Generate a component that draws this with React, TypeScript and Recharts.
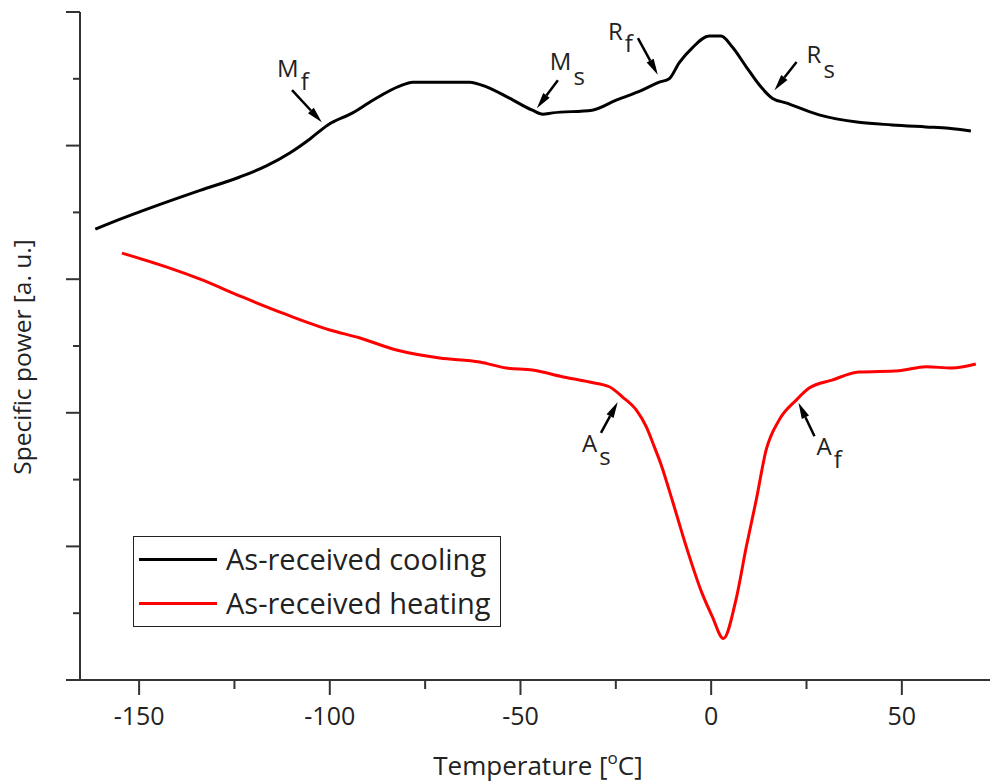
import React from 'react';
import { LineChart, Line, XAxis, YAxis, ReferenceLine, Legend } from 'recharts';

// temperature [°C] / specific power [a. u.]
const coolT = [-161.5, -157.6, -144.5, -134.0, -123.6, -116.5, -110.5, -105.2, -100.5, -94.0, -88.7, -81.7, -78.3, -63.4, -58.9, -52.9, -46.9, -44.2, -41.6, -31.2, -24.9, -18.1, -13.6, -11.0, -8.4, -5.0, -0.5, 2.6, 5.5, 9.2, 12.6, 16.0, 19.6, 28.3, 38.7, 47.4, 56.3, 62.3, 68.1];
const coolP = [6.75, 6.84, 7.12, 7.33, 7.53, 7.7, 7.89, 8.1, 8.31, 8.49, 8.68, 8.89, 8.95, 8.95, 8.88, 8.71, 8.53, 8.47, 8.49, 8.53, 8.68, 8.83, 8.95, 9.0, 9.24, 9.46, 9.64, 9.64, 9.48, 9.18, 8.91, 8.71, 8.64, 8.46, 8.35, 8.31, 8.28, 8.26, 8.22];

const heatT = [-154.5, -142.7, -134.0, -122.8, -111.8, -100.0, -92.1, -82.5, -71.2, -60.7, -53.7, -46.9, -39.0, -31.9, -26.7, -23.3, -19.6, -17.0, -14.9, -13.1, -10.2, -6.5, -2.4, 0.3, 3.2, 6.5, 9.2, 11.8, 14.4, 17.8, 22.3, 25.7, 31.7, 38.7, 49.2, 56.3, 63.1, 69.4];
const heatP = [6.39, 6.18, 6.0, 5.73, 5.48, 5.24, 5.12, 4.94, 4.82, 4.76, 4.67, 4.64, 4.54, 4.46, 4.39, 4.24, 4.04, 3.79, 3.49, 3.22, 2.69, 1.99, 1.3, 0.95, 0.62, 1.2, 1.99, 2.69, 3.44, 3.89, 4.19, 4.37, 4.49, 4.61, 4.63, 4.69, 4.67, 4.73];

const xMajor = [-150, -100, -50, 0, 50];
const xMinor = [-125, -75, -25, 25];
const topMajor = [-116.7, -69.3, -20.8, 26.9];
const topMinor = [-141.1, -93.1, -44.9, 2.8, 51.3];
const yMajor = [0, 2, 4, 6, 8, 10];
const yMinor = [1, 3, 5, 7, 9];

// transition markers: label, subscript, arrow tail -> head (data coords)
const marks = [
  { id: 'Mf', main: 'M', sub: 'f', from: [-109.9, 8.83], to: [-102.1, 8.35] },
  { id: 'Ms', main: 'M', sub: 's', from: [-40.2, 8.98], to: [-45.7, 8.56] },
  { id: 'Rf', main: 'R', sub: 'f', from: [-19.2, 9.61], to: [-14.0, 9.06] },
  { id: 'Rs', main: 'R', sub: 's', from: [22.4, 9.25], to: [16.6, 8.83] },
  { id: 'As', main: 'A', sub: 's', from: [-28.9, 3.7], to: [-24.5, 4.16] },
  { id: 'Af', main: 'A', sub: 'f', from: [27.1, 3.65], to: [22.9, 4.15] },
];

// label placement relative to arrow tail, in px
const labelPos: Record<string, { dx: number; dy: number; sub: number }> = {
  Mf: { dx: -15, dy: -13, sub: 13 },
  Ms: { dx: -8, dy: -10, sub: 15 },
  Rf: { dx: -30, dy: 2, sub: 12 },
  Rs: { dx: 10, dy: 1, sub: 15 },
  As: { dx: -19, dy: 19, sub: 13 },
  Af: { dx: 2, dy: 19, sub: 13 },
};

const cooling = coolT.map((t, i) => ({ t, p: coolP[i] }));
const heating = heatT.map((t, i) => ({ t, p: heatP[i] }));

const FONT = '"Open Sans", sans-serif';
const INK = '#222';
const AX = '#333';
const xDomain: [number, number] = [-165.5, 76];

const BottomTick = ({ x, y, payload }: any) => {
  const major = xMajor.includes(payload.value);
  return (
    <g>
      <line x1={x} x2={x} y1={y} y2={y + (major ? 15 : 9)} stroke={AX} strokeWidth={2} />
      {major && (
        <text x={x} y={y + 45} textAnchor="middle" fontFamily={FONT} fontSize={25} fill={INK}>
          {payload.value}
        </text>
      )}
    </g>
  );
};

const TopTick = ({ x, y, payload }: any) => {
  const major = topMajor.includes(payload.value);
  return <line x1={x} x2={x} y1={y} y2={y + (major ? 12 : 5)} stroke={AX} strokeWidth={2} />;
};

const SideTick = ({ x, y, payload }: any) => {
  const major = yMajor.includes(payload.value);
  return <line x1={x} x2={x - (major ? 14 : 7)} y1={y} y2={y} stroke={AX} strokeWidth={2} />;
};

const Arrow = (props: any) => {
  const { x1, y1, x2, y2, mark } = props;
  const pos = labelPos[mark.id];
  const dx = x2 - x1;
  const dy = y2 - y1;
  const len = Math.sqrt(dx * dx + dy * dy) || 1;
  const ux = dx / len;
  const uy = dy / len;
  const head = 16;
  const half = 4;
  const bx = x2 - ux * head;
  const by = y2 - uy * head;
  const pts = `${x2},${y2} ${bx - uy * half},${by + ux * half} ${bx + uy * half},${by - ux * half}`;
  return (
    <g>
      <line x1={x1} y1={y1} x2={bx} y2={by} stroke="#000" strokeWidth={2.5} />
      <polygon points={pts} fill="#000" />
      <text x={x1 + pos.dx} y={y1 + pos.dy} fontFamily={FONT} fontSize={24} fill={INK}>
        {mark.main}
        <tspan dx={2} dy={pos.sub}>{mark.sub}</tspan>
      </text>
    </g>
  );
};

const LegendBox = ({ payload }: any) => (
  <div style={{ fontFamily: FONT }}>
    {(payload || []).map((e: any) => (
      <div key={e.value} style={{ height: 44, display: 'flex', alignItems: 'center' }}>
        <span style={{ display: 'inline-block', width: 78, height: 3, background: e.color, marginLeft: 5 }} />
        <span style={{ fontSize: 29, color: INK, marginLeft: 9, lineHeight: '44px', whiteSpace: 'nowrap' }}>{e.value}</span>
      </div>
    ))}
  </div>
);

const YLabel = ({ viewBox }: any) => {
  const cy = viewBox.y + viewBox.height / 2 + 11;
  return (
    <text x={31} y={cy} transform={`rotate(-90 31 ${cy})`} textAnchor="middle" fontFamily={FONT} fontSize={24.5} fill={INK}>
      Specific power [a. u.]
    </text>
  );
};

const XLabel = () => (
  <text x={538} y={775} textAnchor="middle" fontFamily={FONT} fontSize={26} fill={INK}>
    Temperature [
    <tspan fontSize={17} dy={-11}>o</tspan>
    <tspan dy={11}>C]</tspan>
  </text>
);

export default function App() {
  return (
    <div style={{ position: 'absolute', left: 0, top: 0, width: 990, height: 783, overflow: 'hidden', background: '#fff' }}>
      <LineChart width={1002} height={783} margin={{ top: 12, right: 1, bottom: 0, left: 0 }}>
        <XAxis
          dataKey="t"
          type="number"
          domain={xDomain}
          allowDataOverflow
          ticks={[...xMajor, ...xMinor].sort((a, b) => a - b)}
          interval={0}
          height={103}
          tickSize={0}
          tickMargin={0}
          tickLine={false}
          tick={<BottomTick />}
          axisLine={{ stroke: AX, strokeWidth: 2 }}
          label={<XLabel />}
        />
        <XAxis
          xAxisId="top"
          orientation="top"
          type="number"
          domain={xDomain}
          allowDataOverflow
          ticks={[...topMajor, ...topMinor].sort((a, b) => a - b)}
          interval={0}
          height={0}
          tickSize={0}
          tickMargin={0}
          tickLine={false}
          tick={<TopTick />}
          axisLine={{ stroke: AX, strokeWidth: 2 }}
        />
        <YAxis
          type="number"
          domain={[0, 10]}
          allowDataOverflow
          ticks={[...yMajor, ...yMinor].sort((a, b) => a - b)}
          interval={0}
          width={80}
          tickSize={0}
          tickMargin={0}
          tickLine={false}
          tick={<SideTick />}
          axisLine={{ stroke: AX, strokeWidth: 2 }}
          label={<YLabel />}
        />
        <YAxis
          yAxisId="right"
          orientation="right"
          type="number"
          domain={[0, 10]}
          ticks={[...yMajor, ...yMinor].sort((a, b) => a - b)}
          interval={0}
          width={0}
          tickSize={0}
          tickMargin={0}
          tickLine={false}
          tick={<SideTick />}
          axisLine={{ stroke: AX, strokeWidth: 2 }}
        />
        <Line data={cooling} dataKey="p" name="As-received cooling" type="monotone" stroke="#000" strokeWidth={3} dot={false} isAnimationActive={false} />
        <Line data={heating} dataKey="p" name="As-received heating" type="monotone" stroke="#ff0000" strokeWidth={3} dot={false} isAnimationActive={false} />
        {marks.map((m) => (
          <ReferenceLine
            key={m.id}
            segment={[{ x: m.from[0], y: m.from[1] }, { x: m.to[0], y: m.to[1] }]}
            ifOverflow="visible"
            shape={(p: any) => <Arrow {...p} mark={m} />}
          />
        ))}
        <Legend
          layout="horizontal"
          verticalAlign="middle"
          align="center"
          content={<LegendBox />}
          wrapperStyle={{ left: 133, top: 536, width: 368, height: 91, border: '1.5px solid #222', boxSizing: 'border-box', background: '#fff' }}
        />
      </LineChart>
    </div>
  );
}
